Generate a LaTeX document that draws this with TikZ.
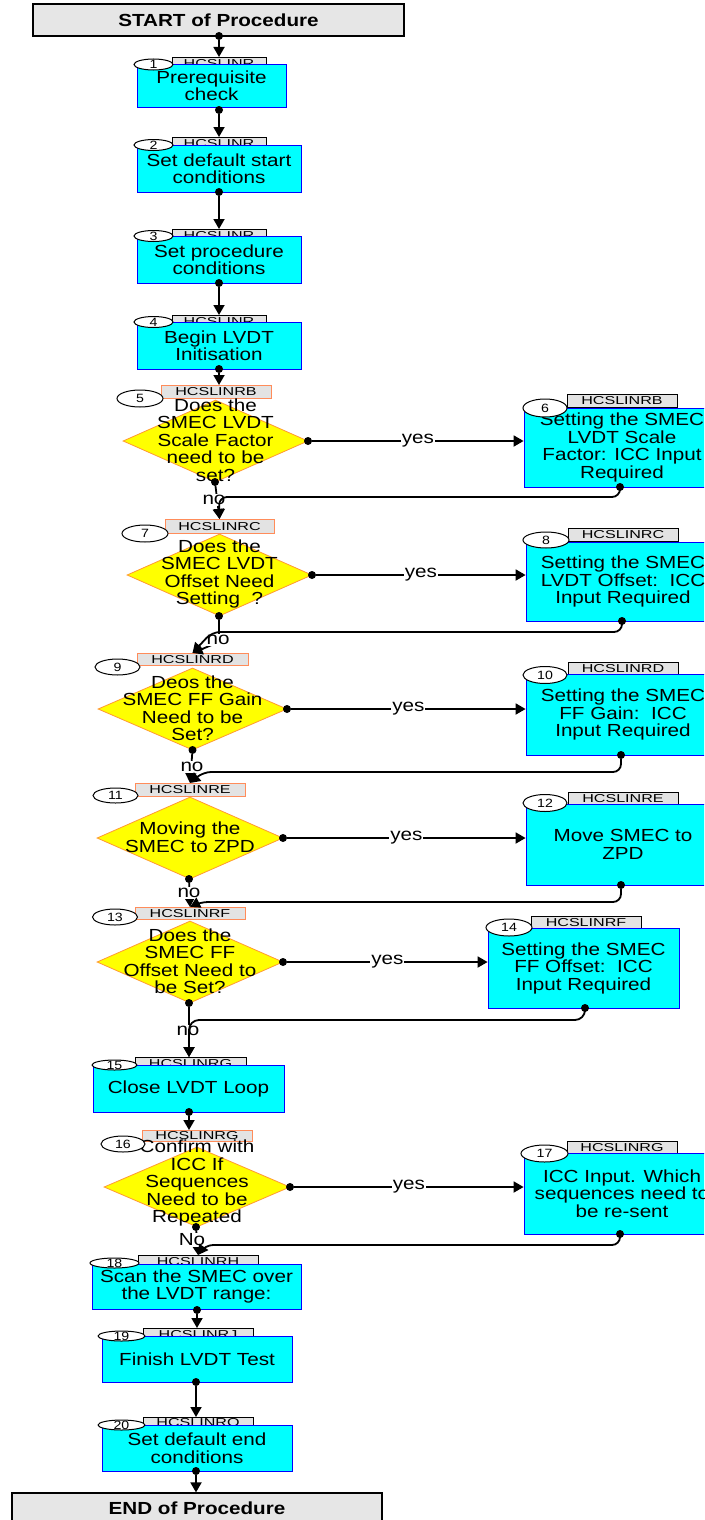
\documentclass[tikz,border=0pt]{standalone}
\usepackage{fontspec}
\setmainfont{Liberation Sans}[FakeStretch=1.18]
\newfontfamily\tagfamily{Liberation Sans}[FakeStretch=1.4]
\usetikzlibrary{shapes.geometric,arrows.meta,positioning}

\definecolor{procfill}{HTML}{00FFFF}
\definecolor{procline}{HTML}{0000FF}
\definecolor{decfill}{HTML}{FFFF00}
\definecolor{decline}{HTML}{FF9933}
\definecolor{tagfill}{HTML}{E3E3E3}
\definecolor{tagline}{HTML}{FF8C5A}
\definecolor{termfill}{HTML}{E6E6E6}

\newcommand\flowfont{\fontsize{17.5}{17.5}\selectfont}
\newcommand\tagfont{\tagfamily\fontsize{11.5}{11.5}\selectfont}
\newcommand\numfont{\fontsize{12}{12}\selectfont}

\tikzset{
  termbox/.style={draw, line width=1.2pt, fill=termfill, inner sep=0, font=\flowfont\bfseries},
  procbox/.style={draw=procline, line width=0.8pt, fill=procfill, inner sep=0, align=center, font=\flowfont},
  decbox/.style={diamond, draw=decline, line width=0.8pt, fill=decfill, inner sep=0, minimum width=186pt, minimum height=82pt},
  dectext/.style={inner sep=0, align=center, font=\flowfont},
  tagbox/.style={draw, line width=0.7pt, fill=tagfill, inner sep=0, anchor=north, minimum height=13pt, font=\tagfont},
  dtagbox/.style={tagbox, draw=tagline},
  numoval/.style={ellipse, draw, line width=1pt, fill=white, inner sep=-3pt, font=\numfont},
  joint/.style={circle, fill, inner sep=0, minimum size=8pt},
  flowline/.style={line width=1.8pt, -{Triangle[length=10pt,width=11pt]}},
  answer/.style={fill=white, inner sep=1pt, font=\flowfont},
}

\begin{document}
\begin{tikzpicture}[x=1pt,y=-1pt]
\useasboundingbox (0,0) rectangle (704,1520);
\fill[white] (0,0) rectangle (704,1520);
\clip (0,0) rectangle (704,1520);

% tags
\node[tagbox, minimum width=94pt] (t1) at (219,57) {HCSLINR};
\node[tagbox, minimum width=94pt] (t2) at (219,137) {HCSLINR};
\node[tagbox, minimum width=94pt] (t3) at (219,229) {HCSLINR};
\node[tagbox, minimum width=94pt] (t4) at (219,315) {HCSLINR};
\node[dtagbox, minimum width=110pt] (t5) at (216,385) {HCSLINRB};
\node[tagbox, minimum width=110pt] (t6) at (622,394) {HCSLINRB};
\node[dtagbox, minimum width=109pt, minimum height=14pt] (t7) at (219.5,519) {HCSLINRC};
\node[tagbox, minimum width=110pt] (t8) at (623,528) {HCSLINRC};
\node[dtagbox, minimum width=111pt, minimum height=12pt] (t9) at (192.5,653) {HCSLINRD};
\node[tagbox, minimum width=110pt] (t10) at (623,662) {HCSLINRD};
\node[dtagbox, minimum width=110pt] (t11) at (190,783) {HCSLINRE};
\node[tagbox, minimum width=110pt] (t12) at (623,792) {HCSLINRE};
\node[dtagbox, minimum width=110pt, minimum height=12pt] (t13) at (190,907) {HCSLINRF};
\node[tagbox, minimum width=110pt] (t14) at (586,916) {HCSLINRF};
\node[tagbox, minimum width=111pt] (t15) at (190.5,1057) {HCSLINRG};
\node[dtagbox, minimum width=110pt, minimum height=11pt] (t16) at (197,1130) {HCSLINRG};
\node[tagbox, minimum width=110pt] (t17) at (622,1141) {HCSLINRG};
\node[tagbox, minimum width=120pt] (t18) at (198,1255) {HCSLINRH};
\node[tagbox, minimum width=110pt] (t19) at (198,1328) {HCSLINRJ};
\node[tagbox, minimum width=110pt] (t20) at (198,1417) {HCSLINRQ};

% boxes
\node[termbox, minimum width=371pt, minimum height=32pt] (start) at (218.5,20) {START of Procedure};
\node[procbox, minimum width=149pt, minimum height=43pt] (b1) at (211.5,85.5) {Prerequisite\\check};
\node[procbox, minimum width=164pt, minimum height=47pt] (b2) at (219,168.5) {Set default start\\conditions};
\node[procbox, minimum width=164pt, minimum height=47pt] (b3) at (219,259.5) {Set procedure\\conditions};
\node[procbox, minimum width=164pt, minimum height=47pt] (b4) at (219,345.5) {Begin LVDT\\Initisation};
\node[procbox, minimum width=196pt, minimum height=79pt] (b6) at (622,447.5) {Setting the SMEC\\LVDT Scale\\Factor: ICC Input\\Required};
\node[procbox, minimum width=194pt, minimum height=79pt] (b8) at (623,581.5) {Setting the SMEC\\LVDT Offset:~~ICC\\Input Required};
\node[procbox, minimum width=194pt, minimum height=81pt] (b10) at (623,714.5) {Setting the SMEC\\FF Gain:~~ICC\\Input Required};
\node[procbox, minimum width=194pt, minimum height=81pt] (b12) at (623,844.5) {Move SMEC to\\ZPD};
\node[procbox, minimum width=191pt, minimum height=80pt] (b14) at (583.5,968) {Setting the SMEC\\FF Offset:~~ICC\\Input Required};
\node[procbox, minimum width=191pt, minimum height=47pt] (b15) at (188.5,1088.5) {Close LVDT Loop};
\node[procbox, minimum width=196pt, minimum height=81pt] (b17) at (622,1193.5) {ICC Input. Which\\sequences need to\\be re-sent};
\node[procbox, minimum width=209pt, minimum height=45pt] (b18) at (196.5,1286.5) {Scan the SMEC over\\the LVDT range:};
\node[procbox, minimum width=190pt, minimum height=46pt] (b19) at (197,1359) {Finish LVDT Test};
\node[procbox, minimum width=190pt, minimum height=46pt] (b20) at (197,1448) {Set default end\\conditions};
\node[termbox, minimum width=370pt, minimum height=30pt] (end) at (197,1508) {END of Procedure};

% decisions
\node[decbox, minimum width=185pt] (d5) at (215.5,441) {};
\node[decbox, minimum width=185pt] (d7) at (219.5,575) {};
\node[decbox, minimum width=189pt] (d9) at (192.5,709) {};
\node[decbox] (d11) at (190,838) {};
\node[decbox] (d13) at (190,962) {};
\node[decbox, minimum height=80pt] (d16) at (197,1187) {};
\node[dectext] (d5t) at (215.5,440) {Does the\\SMEC LVDT\\Scale Factor\\need to be\\set?};
\node[dectext] (d7t) at (219.5,574) {Does the\\SMEC LVDT\\Offset Need\\Setting~~?};
\node[dectext] (d9t) at (192.5,708) {Deos the\\SMEC FF Gain\\Need to be\\Set?};
\node[dectext] (d11t) at (190,837) {Moving the\\SMEC to ZPD};
\node[dectext] (d13t) at (190,961) {Does the\\SMEC FF\\Offset Need to\\be Set?};
\node[dectext] (d16t) at (197,1183) {Confirm with\\ICC If\\Sequences\\Need to be\\Repeated};

% step numbers
\node[numoval, minimum width=39pt, minimum height=11pt] (o1) at (153.5,64.5) {1};
\node[numoval, minimum width=39pt, minimum height=11pt] (o2) at (153.5,145) {2};
\node[numoval, minimum width=39pt, minimum height=11pt] (o3) at (153.5,236) {3};
\node[numoval, minimum width=39pt, minimum height=11pt] (o4) at (153.5,322) {4};
\node[numoval, minimum width=46pt, minimum height=17pt] (o5) at (140,398.5) {5};
\node[numoval, minimum width=44pt, minimum height=18pt] (o6) at (545,408) {6};
\node[numoval, minimum width=46pt, minimum height=17pt] (o7) at (145,533.5) {7};
\node[numoval, minimum width=46pt, minimum height=16pt] (o8) at (546,540) {8};
\node[numoval, minimum width=45pt, minimum height=16pt] (o9) at (117.5,667) {9};
\node[numoval, minimum width=44pt, minimum height=17pt] (o10) at (545,675) {10};
\node[numoval, minimum width=45pt, minimum height=15pt] (o11) at (115.5,795.5) {11};
\node[numoval, minimum width=44pt, minimum height=17pt] (o12) at (545,803) {12};
\node[numoval, minimum width=45pt, minimum height=16pt] (o13) at (115,917) {13};
\node[numoval, minimum width=46pt, minimum height=17pt] (o14) at (509,927.5) {14};
\node[numoval, minimum width=45pt, minimum height=10pt] (o15) at (114.5,1065) {15};
\node[numoval, minimum width=44pt, minimum height=16pt] (o16) at (123,1144) {16};
\node[numoval, minimum width=47pt, minimum height=17pt] (o17) at (544.5,1153.5) {17};
\node[numoval, minimum width=49pt, minimum height=10pt] (o18) at (114.5,1263) {18};
\node[numoval, minimum width=47pt, minimum height=10pt] (o19) at (121.5,1336) {19};
\node[numoval, minimum width=47pt, minimum height=10pt] (o20) at (121.5,1425) {20};

% joints
\node[joint] (p0) at (219,36) {};
\node[joint] (p1) at (219,110) {};
\node[joint] (p2) at (219,192) {};
\node[joint] (p3) at (219,283) {};
\node[joint] (p4) at (219,369) {};
\node[joint] (r5) at (308,441) {};
\node[joint] (n5) at (215,482) {};
\node[joint] (q6) at (620,487) {};
\node[joint] (r7) at (312,575) {};
\node[joint] (n7) at (219,616) {};
\node[joint] (q8) at (622,621) {};
\node[joint] (r9) at (287,709) {};
\node[joint] (n9) at (192.5,750) {};
\node[joint] (q10) at (621,755) {};
\node[joint] (r11) at (283,838) {};
\node[joint] (n11) at (189,879) {};
\node[joint] (q12) at (621,885) {};
\node[joint] (r13) at (283,962) {};
\node[joint] (n13) at (189,1003) {};
\node[joint] (q14) at (585,1008) {};
\node[joint] (p15) at (189,1112) {};
\node[joint] (r16) at (290,1187) {};
\node[joint] (n16) at (196,1227) {};
\node[joint] (q17) at (620,1234) {};
\node[joint] (p18) at (197,1310) {};
\node[joint] (p19) at (196,1382) {};
\node[joint] (p20) at (196,1471) {};

\coordinate (k6a) at (620,497);
\coordinate (k6b) at (219,497);
\coordinate (c7) at (219,642);
\coordinate (k8a) at (622,632);
\coordinate (k8b) at (212,632);
\coordinate (k10a) at (621,772);
\coordinate (k10b) at (203,772);
\coordinate (k12a) at (621,902);
\coordinate (k12b) at (200,902);
\coordinate (k14a) at (585,1020);
\coordinate (k14b) at (189,1020);
\coordinate (k17a) at (620,1245);
\coordinate (k17b) at (205,1245);

% straight runs
\draw[flowline] (p0) -- (p0 |- t1.north);
\draw[flowline] (p1) -- (p1 |- t2.north);
\draw[flowline] (p2) -- (p2 |- t3.north);
\draw[flowline] (p3) -- (p3 |- t4.north);
\draw[flowline] (p4) -- (p4 |- t5.north);
\draw[flowline] (p15) -- (p15 |- t16.north);
\draw[flowline] (p18) -- (p18 |- t19.north);
\draw[flowline] (p19) -- (p19 |- t20.north);
\draw[flowline] (p20) -- (p20 |- end.north);

% yes branches
\draw[flowline] (r5) -- node[answer] (y5) {yes} (r5 -| b6.west);
\draw[flowline] (r7) -- node[answer] (y7) {yes} (r7 -| b8.west);
\draw[flowline] (r9) -- node[answer] (y9) {yes} (r9 -| b10.west);
\draw[flowline] (r11) -- node[answer] (y11) {yes} (r11 -| b12.west);
\draw[flowline] (r13) -- node[answer] (y13) {yes} (r13 -| b14.west);
\draw[flowline] (r16) -- node[answer] (y16) {yes} (r16 -| b17.west);

% no branches
\draw[flowline] (n5) -- (t7.north);
\draw[flowline, rounded corners=6pt] (n7) -- (c7) -- (t9.north);
\draw[flowline] (n9) -- (t11.north);
\draw[flowline] (n11) -- (t13.north);
\draw[flowline] (n13) -- (n13 |- t15.north);
\draw[flowline] (n16) -- (t18.north);
\node[answer] (no5) at (214,500) {no};
\node[answer] (no7) at (218,640) {no};
\node[answer] (no9) at (192,767) {no};
\node[answer] (no11) at (189,893) {no};
\node[answer] (no13) at (188,1031) {no};
\node[answer] (no16) at (192,1240) {No};

% returns
\draw[flowline, rounded corners=8pt] (q6) -- (k6a) -- (k6b) -- (t7.north);
\draw[flowline, rounded corners=8pt] (q8) -- (k8a) -- (k8b) -- (t9.north);
\draw[flowline, rounded corners=8pt] (q10) -- (k10a) -- (k10b) -- (t11.north);
\draw[flowline, rounded corners=8pt] (q12) -- (k12a) -- (k12b) -- (t13.north);
\draw[flowline, rounded corners=10pt] (q14) -- (k14a) -- (k14b) -- (n13 |- t15.north);
\draw[flowline, rounded corners=8pt] (q17) -- (k17a) -- (k17b) -- (t18.north);
\end{tikzpicture}
\end{document}
